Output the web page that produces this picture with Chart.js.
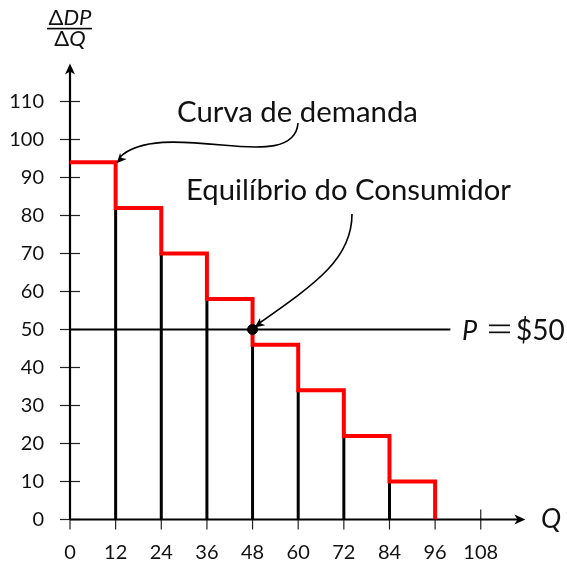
<!DOCTYPE html>
<html>
<head>
<meta charset="utf-8">
<script src="https://cdn.jsdelivr.net/npm/chart.js@4/dist/chart.umd.min.js"></script>
<style>
html,body{margin:0;padding:0;background:#fff;}
#wrap{width:567px;height:561px;position:relative;}
</style>
</head>
<body>
<div id="wrap"><canvas id="c" width="567" height="561"></canvas></div>
<script>
// ---- data ----
const quantities = [0, 12, 24, 36, 48, 60, 72, 84, 96];
const prices = [94, 82, 70, 58, 46, 34, 22, 10];
const xTickValues = [0, 12, 24, 36, 48, 60, 72, 84, 96, 108];
const yTickValues = [0, 10, 20, 30, 40, 50, 60, 70, 80, 90, 100, 110];
const marketPrice = 50;
const equilibriumQ = 48;
const priceLineEnd = 100;
const axisMax = 120;

// demand step curve points
const demandPoints = prices.map((p, i) => ({x: quantities[i], y: p}));
demandPoints.push({x: quantities[quantities.length - 1], y: 0});

// black vertical bars at each step
const verticalPoints = [];
for (let i = 1; i < prices.length; i++) {
  verticalPoints.push({x: quantities[i], y: 0});
  verticalPoints.push({x: quantities[i], y: prices[i]});
  verticalPoints.push({x: quantities[i], y: null});
}

const FONT = "Lato, 'DejaVu Sans', sans-serif";

function arrowHead(ctx, tx, ty, angle, len, half) {
  ctx.save();
  ctx.translate(tx, ty);
  ctx.rotate(angle);
  ctx.beginPath();
  ctx.moveTo(0, 0);
  ctx.lineTo(-len, -half);
  ctx.lineTo(-len * 0.72, 0);
  ctx.lineTo(-len, half);
  ctx.closePath();
  ctx.fillStyle = '#000';
  ctx.fill();
  ctx.restore();
}

const decor = {
  id: 'decor',
  beforeDatasetsDraw(chart) {
    const ctx = chart.ctx;
    const xs = chart.scales.x, ys = chart.scales.y;
    const x0 = xs.getPixelForValue(0), y0 = ys.getPixelForValue(0);
    ctx.save();
    // tick crosses
    ctx.strokeStyle = '#222';
    ctx.lineWidth = 1.2;
    yTickValues.forEach(v => {
      const y = ys.getPixelForValue(v);
      ctx.beginPath(); ctx.moveTo(x0 - 10, y); ctx.lineTo(x0 + 10, y); ctx.stroke();
    });
    xTickValues.forEach(v => {
      const x = xs.getPixelForValue(v);
      ctx.beginPath(); ctx.moveTo(x, y0 - 10); ctx.lineTo(x, y0 + 10); ctx.stroke();
    });
    // axes
    ctx.strokeStyle = '#000';
    ctx.lineWidth = 2.2;
    const xEnd = xs.getPixelForValue(axisMax) - 1;
    const yEnd = ys.getPixelForValue(axisMax);
    ctx.beginPath(); ctx.moveTo(x0, y0); ctx.lineTo(xEnd - 4, y0); ctx.stroke();
    ctx.beginPath(); ctx.moveTo(x0, y0); ctx.lineTo(x0, yEnd + 4); ctx.stroke();
    arrowHead(ctx, xEnd, y0, 0, 11, 5);
    arrowHead(ctx, x0, yEnd, -Math.PI / 2, 11, 5);
    ctx.restore();
  },
  afterDraw(chart) {
    const ctx = chart.ctx;
    const xs = chart.scales.x, ys = chart.scales.y;
    ctx.save();
    ctx.fillStyle = '#111';
    ctx.textBaseline = 'alphabetic';
    // y-axis title fraction
    const fs = "22px ";
    ctx.font = fs + FONT;
    const dW = ctx.measureText('\u0394').width;
    ctx.font = "italic " + fs + FONT;
    const dpW = ctx.measureText('DP').width;
    const qW = ctx.measureText('Q').width;
    const cx = 70;
    let sx = cx - (dW + dpW) / 2;
    ctx.font = fs + FONT; ctx.fillText('\u0394', sx, 25);
    ctx.font = "italic " + fs + FONT; ctx.fillText('DP', sx + dW, 25);
    sx = cx - (dW + qW) / 2;
    ctx.font = fs + FONT; ctx.fillText('\u0394', sx, 46);
    ctx.font = "italic " + fs + FONT; ctx.fillText('Q', sx + dW, 46);
    ctx.fillStyle = '#000';
    ctx.fillRect(47, 27.8, 45, 1.6);
    ctx.fillStyle = '#111';
    // Q axis label
    ctx.font = "italic 27px " + FONT;
    ctx.fillText('Q', 541, 528);
    // P = $50
    const py = ys.getPixelForValue(marketPrice) + 10;
    ctx.font = "italic 27px " + FONT;
    ctx.fillText('P', 462, py);
    ctx.fillRect(489, py - 15, 21, 1.7);
    ctx.fillRect(489, py - 8, 21, 1.7);
    ctx.font = "28px " + FONT;
    ctx.fillText('$50', 516, py);
    // annotation texts, fitted to widths
    function fitText(t, x, y, w) {
      ctx.font = "100px " + FONT;
      const m = ctx.measureText(t).width;
      const s = 100 * w / m;
      ctx.font = s.toFixed(2) + "px " + FONT;
      ctx.fillText(t, x, y);
    }
    fitText('Curva de demanda', 177, 122, 241);
    fitText('Equil\u00edbrio do Consumidor', 186, 200, 325);
    // annotation arrows
    ctx.strokeStyle = '#000';
    ctx.lineWidth = 1.6;
    ctx.beginPath();
    ctx.moveTo(298, 123);
    ctx.bezierCurveTo(296, 150, 262, 149, 222, 145);
    ctx.bezierCurveTo(180, 141, 140, 138, 120, 157);
    ctx.stroke();
    const t1x = xs.getPixelForValue(quantities[1]) + 1, t1y = ys.getPixelForValue(prices[0]) + 1;
    arrowHead(ctx, t1x, t1y, Math.atan2(t1y - 138, t1x - 140), 10, 4.5);
    ctx.beginPath();
    ctx.moveTo(352, 214);
    ctx.bezierCurveTo(352, 258, 318, 282, 258, 324);
    ctx.stroke();
    const t2x = xs.getPixelForValue(equilibriumQ) + 2, t2y = ys.getPixelForValue(marketPrice) - 2;
    arrowHead(ctx, t2x, t2y, Math.atan2(t2y - 282, t2x - 318), 10, 4.5);
    ctx.restore();
  }
};

new Chart(document.getElementById('c'), {
  type: 'line',
  data: {
    datasets: [
      {
        label: 'steps',
        data: verticalPoints,
        borderColor: '#000',
        borderWidth: 3,
        pointRadius: 0,
        spanGaps: false,
        fill: false,
        order: 4
      },
      {
        label: 'price',
        data: [{x: 0, y: marketPrice}, {x: priceLineEnd, y: marketPrice}],
        borderColor: '#000',
        borderWidth: 2,
        pointRadius: 0,
        fill: false,
        order: 3
      },
      {
        label: 'demand',
        data: demandPoints,
        borderColor: '#ff0000',
        borderWidth: 4,
        stepped: 'before',
        borderJoinStyle: 'miter',
        borderCapStyle: 'butt',
        pointRadius: 0,
        fill: false,
        order: 2
      },
      {
        label: 'eq',
        type: 'scatter',
        data: [{x: equilibriumQ, y: marketPrice}],
        backgroundColor: '#000',
        borderColor: '#000',
        pointRadius: 5,
        order: 1
      }
    ]
  },
  options: {
    responsive: false,
    animation: false,
    devicePixelRatio: 1,
    layout: {padding: {top: 63.5, right: 40.6, left: 0, bottom: 0}},
    plugins: {legend: {display: false}, tooltip: {enabled: false}},
    scales: {
      x: {
        type: 'linear', min: 0, max: axisMax,
        border: {display: false},
        grid: {display: false, drawTicks: false},
        ticks: {stepSize: 12, padding: 21, color: '#111', font: {family: FONT, size: 20}, maxRotation: 0, autoSkip: false},
        afterBuildTicks(s) { s.ticks = xTickValues.map(v => ({value: v})); },
        afterFit(s) { s.height = 41.5; }
      },
      y: {
        type: 'linear', min: 0, max: axisMax,
        border: {display: false},
        grid: {display: false, drawTicks: false},
        ticks: {stepSize: 10, padding: 26, color: '#111', font: {family: FONT, size: 20}, autoSkip: false},
        afterBuildTicks(s) { s.ticks = yTickValues.map(v => ({value: v})); },
        afterFit(s) { s.height = undefined; s.width = 70; }
      }
    }
  },
  plugins: [decor]
});
</script>
</body>
</html>
